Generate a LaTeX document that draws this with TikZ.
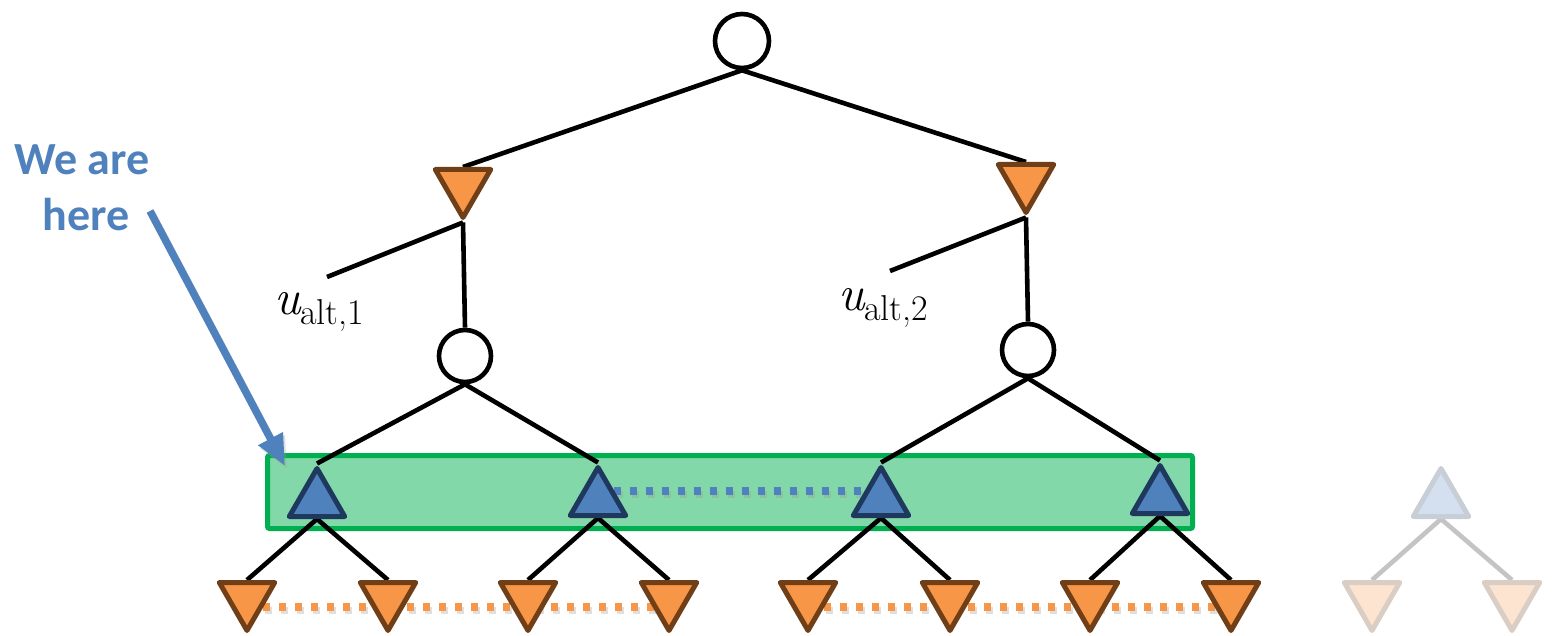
\documentclass[tikz,border=0pt]{standalone}
\usepackage{fontspec}
\newfontfamily\carlito{Carlito}
\usetikzlibrary{shapes.geometric,arrows.meta}
\definecolor{tblue}{RGB}{79,129,189}
\definecolor{tnavy}{RGB}{31,56,93}
\definecolor{torange}{RGB}{247,150,70}
\definecolor{tbrown}{RGB}{112,63,24}
\definecolor{gfill}{RGB}{130,216,168}
\definecolor{gline}{RGB}{0,176,80}
\definecolor{fblue}{RGB}{212,224,239}
\definecolor{fgray}{RGB}{200,206,214}
\definecolor{forange}{RGB}{252,228,208}
\definecolor{fbrown}{RGB}{218,206,196}
\definecolor{fline}{RGB}{196,196,196}
\definecolor{shade}{RGB}{150,150,150}
\pgfdeclarelayer{background}
\pgfsetlayers{background,main}
\begin{document}
\begin{tikzpicture}[x=1pt,y=-1pt,
  tri/.style={regular polygon, regular polygon sides=3, minimum size=64pt, inner sep=0pt, line width=5pt, line join=round},
  maxtri/.style={tri, fill=tblue, draw=tnavy},
  mintri/.style={tri, shape border rotate=180, fill=torange, draw=tbrown},
  fmaxtri/.style={tri, fill=fblue, draw=fgray},
  fmintri/.style={tri, shape border rotate=180, fill=forange, draw=fbrown},
  chance/.style={circle, draw=black, line width=4.6pt, minimum size=52pt, inner sep=0pt},
  edge/.style={line width=4.6pt, draw=black},
  fedge/.style={line width=4.6pt, draw=fline},
  dots/.style={line width=7.5pt, dash pattern=on 7pt off 9pt},
  shadow/.style={line width=7.5pt, dash pattern=on 7pt off 9pt, draw=shade, opacity=0.3},
  lbl/.style={anchor=base west, inner sep=0pt},
  note/.style={anchor=base, inner sep=0pt, text=tblue, font=\carlito\bfseries\fontsize{46}{46}\selectfont}
]
\useasboundingbox (0,0) rectangle (1554,636);

% nodes
\node[chance, minimum size=54pt] (root) at (742,41) {};
\node[mintri] (oL) at (463,185.5) {};
\node[mintri] (oR) at (1026,180.5) {};
\node[chance] (cL) at (465,356) {};
\node[chance] (cR) at (1028,350) {};
\coordinate (ua1) at (327,277);
\coordinate (ua2) at (890,271);

\node[maxtri] (b1) at (317,500.5) {};
\node[maxtri] (b2) at (598,499.5) {};
\node[maxtri] (b3) at (881,499.5) {};
\node[maxtri] (b4) at (1160,497.5) {};
\node[fmaxtri] (bf) at (1441,500.5) {};

\foreach \n/\x in {1/247,2/388,3/528,4/669,5/808,6/950,7/1090,8/1231}
  \node[mintri] (o\n) at (\x,598.5) {};
\node[fmintri] (of1) at (1372,598.5) {};
\node[fmintri] (of2) at (1512,598.5) {};

% labels
\node[lbl] (lab1) at (274,314) {{\fontsize{50}{50}\selectfont\itshape u}{\fontsize{36}{36}\selectfont\raisebox{-10pt}{alt,1}}};
\node[lbl] (lab2) at (838,310) {{\fontsize{50}{50}\selectfont\itshape u}{\fontsize{36}{36}\selectfont\raisebox{-10pt}{alt,2}}};

\node[note] (we) at (82,175) {We are};
\node[note] (here) at (86,231) {here};

% arrow
\coordinate (as) at (150,211);
\coordinate (at) at (285,466);
\draw[line width=7.5pt, draw=shade, opacity=0.3, -{Triangle[length=31pt,width=26pt]}] ([shift={(2pt,-3pt)}]as) -- ([shift={(2pt,-3pt)}]at);
\draw[line width=7.5pt, draw=tblue, -{Triangle[length=31pt,width=26pt]}] (as) -- (at);

\begin{pgfonlayer}{background}
  \node[draw=gline, fill=gfill, line width=5pt, rounded corners=2pt,
        minimum width=925pt, minimum height=73pt, inner sep=0pt] (band) at (730,492) {};
  % dotted links
  \draw[shadow] ([shift={(2pt,5pt)}]b2.center) -- ([shift={(2pt,5pt)}]b3.center);
  \draw[dots, draw=tblue] ([yshift=8.5pt]b2.center) -- ([yshift=8.5pt]b3.center);
  \draw[shadow] ([shift={(2pt,-12pt)}]o1.center) -- ([shift={(2pt,-12pt)}]o4.center);
  \draw[shadow] ([shift={(2pt,-12pt)}]o5.center) -- ([shift={(2pt,-12pt)}]o8.center);
  \draw[dots, draw=torange] ([yshift=-8.5pt]o1.center) -- ([yshift=-8.5pt]o4.center);
  \draw[dots, draw=torange] ([yshift=-8.5pt]o5.center) -- ([yshift=-8.5pt]o8.center);
  % edges
  \draw[edge] (root.south) -- (oL.side 2);
  \draw[edge] (root.south) -- (oR.side 2);
  \draw[edge] (oL.corner 1) -- (ua1);
  \draw[edge] (oL.corner 1) -- (cL.north);
  \draw[edge] (oR.corner 1) -- (ua2);
  \draw[edge] (oR.corner 1) -- (cR.north);
  \draw[edge] (cL.south) -- (b1.corner 1);
  \draw[edge] (cL.south) -- (b2.corner 1);
  \draw[edge] (cR.south) -- (b3.corner 1);
  \draw[edge] (cR.south) -- (b4.corner 1);
  \draw[edge] (b1.side 2) -- (o1.side 2);
  \draw[edge] (b1.side 2) -- (o2.side 2);
  \draw[edge] (b2.side 2) -- (o3.side 2);
  \draw[edge] (b2.side 2) -- (o4.side 2);
  \draw[edge] (b3.side 2) -- (o5.side 2);
  \draw[edge] (b3.side 2) -- (o6.side 2);
  \draw[edge] (b4.side 2) -- (o7.side 2);
  \draw[edge] (b4.side 2) -- (o8.side 2);
  \draw[fedge] (bf.side 2) -- (of1.side 2);
  \draw[fedge] (bf.side 2) -- (of2.side 2);
\end{pgfonlayer}
\end{tikzpicture}
\end{document}
